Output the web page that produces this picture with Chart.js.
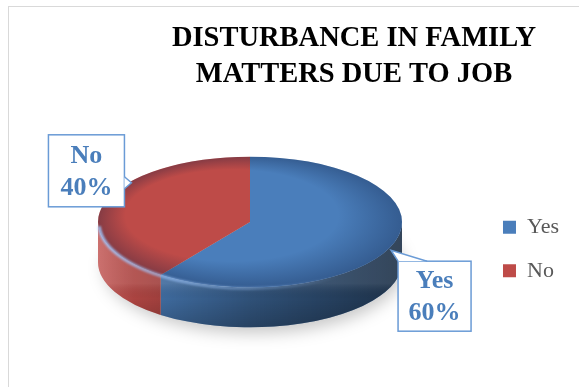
<!DOCTYPE html>
<html>
<head>
<meta charset="utf-8">
<script src="https://cdn.jsdelivr.net/npm/chart.js@4.4.0/dist/chart.umd.min.js"></script>
<style>
  html, body { margin: 0; padding: 0; background: #fff; }
  canvas { display: block; }
</style>
</head>
<body>
<canvas id="pieChart" width="579" height="387"></canvas>
<script>
var categories = ['Yes', 'No'];
var shares = [60, 40];
var sliceColors = ['#4a7ebb', '#be4b48'];
var titleLines = ['DISTURBANCE IN FAMILY', 'MATTERS DUE TO JOB'];

// where the tilted disc sits on the canvas and how it is squashed
var disc = { cx: 250, cy: 222, tilt: 0.43, depth: 40, radius: 152 };

// callout boxes, offset from the rim point under each slice's middle
var callouts = [
    { dx: 40, dy: 54, w: 73, h: 70, wedge: [[-36.5, -35], [-43.5, -46], [-7.5, -35]] },
    { dx: -19, dy: -31, w: 76, h: 72, wedge: [[38, 6], [45, 12], [38, 18]] }
];

var TAU = Math.PI * 2;

// parts of [s, e] that face the viewer (lower half of the ellipse)
function frontRanges(s, e) {
    var out = [];
    for (var k = -1; k <= 1; k++) {
        var lo = Math.max(s, TAU * k), hi = Math.min(e, Math.PI + TAU * k);
        if (hi > lo) out.push([lo - TAU * k, hi - TAU * k]);
    }
    return out;
}

var backdrop = {
    id: 'backdrop',
    beforeDraw: function(chart) {
        var ctx = chart.ctx;
        ctx.save();
        ctx.fillStyle = '#fff';
        ctx.fillRect(0, 0, chart.width, chart.height);
        ctx.strokeStyle = '#d9d9d9';
        ctx.lineWidth = 1;
        ctx.strokeRect(8.5, 6.5, 640, 420);
        ctx.restore();
    }
};

var tiltedDisc = {
    id: 'tiltedDisc',
    beforeDatasetsDraw: function(chart) {
        var ctx = chart.ctx;
        var arcs = chart.getDatasetMeta(0).data;
        var cx = disc.cx, cy = disc.cy, R = arcs[0].outerRadius, ry = R * disc.tilt, d = disc.depth;

        // soft shadow under the disc
        ctx.save();
        ctx.filter = 'blur(8px)';
        ctx.fillStyle = 'rgba(0,0,0,0.22)';
        ctx.beginPath();
        ctx.ellipse(cx + 4, cy + d + 6, R - 2, ry, 0, 0, TAU);
        ctx.fill();
        ctx.restore();

        // side walls
        arcs.forEach(function(arc, i) {
            frontRanges(arc.startAngle, arc.endAngle).forEach(function(r) {
                ctx.save();
                ctx.beginPath();
                ctx.ellipse(cx, cy, R, ry, 0, r[0], r[1], false);
                ctx.ellipse(cx, cy + d, R, ry, 0, r[1], r[0], true);
                ctx.closePath();
                ctx.fillStyle = sliceColors[i];
                ctx.fill();
                ctx.clip();
                var g = ctx.createLinearGradient(cx - R, 0, cx + R, 0);
                g.addColorStop(0, 'rgba(255,255,255,0.12)');
                g.addColorStop(0.12, 'rgba(0,0,0,0.10)');
                g.addColorStop(0.5, 'rgba(0,0,0,0.36)');
                g.addColorStop(1, 'rgba(0,0,0,0.62)');
                ctx.fillStyle = g;
                ctx.fillRect(cx - R, cy, 2 * R, ry + d + 2);
                var v = ctx.createLinearGradient(0, cy + ry - 4, 0, cy + ry + d);
                v.addColorStop(0, 'rgba(255,255,255,0.10)');
                v.addColorStop(0.35, 'rgba(0,0,0,0)');
                v.addColorStop(1, 'rgba(0,0,0,0.18)');
                ctx.fillStyle = v;
                ctx.fillRect(cx - R, cy, 2 * R, ry + d + 2);
                ctx.restore();
            });
        });

        // squash the library's arcs into the top face
        ctx.save();
        ctx.translate(cx, cy);
        ctx.scale(1, disc.tilt);
        ctx.translate(-arcs[0].x, -arcs[0].y);
    },
    afterDatasetsDraw: function(chart) {
        var ctx = chart.ctx;
        ctx.restore();
        var arcs = chart.getDatasetMeta(0).data;
        var cx = disc.cx, cy = disc.cy, R = arcs[0].outerRadius, ry = R * disc.tilt;

        // darker rim on the top face
        ctx.save();
        ctx.beginPath();
        ctx.ellipse(cx, cy, R, ry, 0, 0, TAU);
        ctx.clip();
        ctx.translate(cx, cy);
        ctx.scale(1, disc.tilt);
        var g = ctx.createRadialGradient(-R * 0.12, -R * 0.1, R * 0.7, 0, 0, R * 1.02);
        g.addColorStop(0, 'rgba(10,25,60,0)');
        g.addColorStop(1, 'rgba(10,25,60,0.35)');
        ctx.fillStyle = g;
        ctx.fillRect(-R, -R, 2 * R, 2 * R);
        ctx.restore();

        // light bevel along the front edge
        ctx.save();
        ctx.filter = 'blur(1px)';
        var h = ctx.createLinearGradient(cx - R, 0, cx + R * 0.6, 0);
        h.addColorStop(0, 'rgba(160,200,255,0.9)');
        h.addColorStop(1, 'rgba(160,200,255,0)');
        ctx.strokeStyle = h;
        ctx.lineWidth = 3;
        ctx.beginPath();
        ctx.ellipse(cx, cy + 1, R - 1, ry, 0, 0.5, Math.PI - 0.05);
        ctx.stroke();
        ctx.restore();
    }
};

var calloutLabels = {
    id: 'calloutLabels',
    afterDraw: function(chart) {
        var ctx = chart.ctx;
        var arcs = chart.getDatasetMeta(0).data;
        var total = shares.reduce(function(a, b) { return a + b; }, 0);
        arcs.forEach(function(arc, i) {
            var c = callouts[i];
            var mid = (arc.startAngle + arc.endAngle) / 2;
            var ax = disc.cx + arc.outerRadius * Math.cos(mid);
            var ay = disc.cy + arc.outerRadius * disc.tilt * Math.sin(mid);
            var bx = ax + c.dx, by = ay + c.dy;
            var p = c.wedge.map(function(q) { return [bx + q[0], by + q[1]]; });

            ctx.save();
            ctx.fillStyle = '#fff';
            ctx.strokeStyle = '#6a9bd6';
            ctx.lineWidth = 1.5;
            ctx.fillRect(bx - c.w / 2, by - c.h / 2, c.w, c.h);
            ctx.strokeRect(bx - c.w / 2, by - c.h / 2, c.w, c.h);
            ctx.beginPath();
            ctx.moveTo(p[0][0], p[0][1]);
            ctx.lineTo(p[1][0], p[1][1]);
            ctx.lineTo(p[2][0], p[2][1]);
            ctx.fill();
            ctx.stroke();

            ctx.fillStyle = '#4a7ebb';
            ctx.font = 'bold 26px "Liberation Serif"';
            ctx.textAlign = 'center';
            ctx.textBaseline = 'middle';
            ctx.fillText(categories[i], bx, by - 14.5);
            ctx.fillText(Math.round(shares[i] / total * 100) + '%', bx, by + 17);
            ctx.restore();
        });
    }
};

new Chart(document.getElementById('pieChart'), {
    type: 'pie',
    data: {
        labels: categories,
        datasets: [{
            data: shares,
            backgroundColor: sliceColors,
            borderWidth: 0,
            radius: disc.radius,
            clip: false
        }]
    },
    options: {
        responsive: false,
        animation: false,
        events: [],
        layout: { padding: { left: 139, right: 10, top: 0, bottom: 2 } },
        plugins: {
            title: {
                display: true,
                text: titleLines,
                color: '#000',
                font: { family: 'Liberation Serif', size: 28.5, weight: 'bold', lineHeight: 1.28 },
                padding: { top: 20, bottom: 20 }
            },
            legend: {
                position: 'right',
                fullSize: false,
                labels: {
                    boxWidth: 13,
                    boxHeight: 13,
                    padding: 21.5,
                    color: '#595959',
                    font: { family: 'Liberation Serif', size: 22 }
                }
            },
            tooltip: { enabled: false }
        }
    },
    plugins: [backdrop, tiltedDisc, calloutLabels]
});
</script>
</body>
</html>
